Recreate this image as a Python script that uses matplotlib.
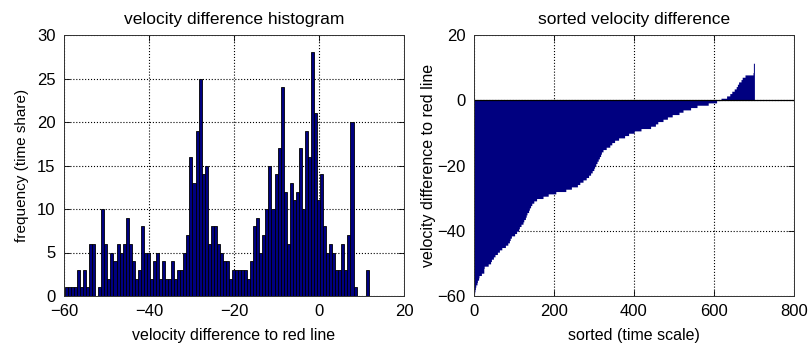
import matplotlib
matplotlib.use("Agg")
import matplotlib.pyplot as plt
import numpy as np

# histogram of velocity difference (100 bins between min and max)
v_min = -59.8
v_max = 11.7
n_bins = 100
hist_counts = [1, 1, 1, 1, 3, 1, 3, 1, 6, 6,
               0, 1, 10, 6, 2, 5, 4, 6, 5, 6,
               9, 6, 4, 2, 3, 8, 5, 5, 2, 4,
               5, 2, 4, 2, 2, 4, 2, 3, 3, 5,
               7, 16, 13, 19, 25, 14, 15, 6, 8, 8,
               6, 5, 4, 4, 2, 3, 3, 3, 3, 3,
               2, 4, 8, 9, 5, 7, 10, 15, 10, 14,
               17, 24, 12, 6, 13, 11, 12, 17, 10, 19,
               16, 28, 21, 11, 14, 8, 5, 6, 5, 3,
               3, 6, 3, 7, 20, 1, 0, 0, 0, 3]

left_xticks = [-60, -40, -20, 0, 20]
left_yticks = [0, 5, 10, 15, 20, 25, 30]
right_xticks = [0, 200, 400, 600, 800]
right_yticks = [-60, -40, -20, 0, 20]

edges = np.linspace(v_min, v_max, n_bins + 1)
centers = (edges[:-1] + edges[1:]) / 2
width = edges[1] - edges[0]

# sorted samples rebuilt from the bins
sorted_vals = np.repeat(centers, hist_counts)
sample_idx = np.arange(1, len(sorted_vals) + 1)

plt.rcParams['font.family'] = ['Liberation Sans', 'DejaVu Sans']
plt.rcParams['font.size'] = 11

navy = '#000080'

fig = plt.figure(figsize=(8.09, 3.5), dpi=100)
ax1 = fig.add_axes([64 / 809, 54 / 350, 340 / 809, 261 / 350])
ax2 = fig.add_axes([474 / 809, 54 / 350, 320 / 809, 261 / 350])


def matlab_style(ax):
    ax.grid(True, linestyle=':', color='black', linewidth=0.8)
    ax.set_axisbelow(True)
    ax.tick_params(direction='in', top=True, right=True, length=4, width=0.6,
                   labelsize=12)
    ax.tick_params(axis='x', pad=6)
    ax.tick_params(axis='y', pad=6)
    for s in ax.spines.values():
        s.set_linewidth(0.7)
        s.set_color('#333333')


ax1.bar(centers, hist_counts, width=width, color=navy, edgecolor='black', linewidth=0.6)
ax1.set_xlim(-60, 20)
ax1.set_ylim(0, 30)
ax1.set_xticks(left_xticks)
ax1.set_yticks(left_yticks)
matlab_style(ax1)
ax1.set_title("velocity difference histogram", pad=8, fontsize=12.5)
ax1.set_xlabel("velocity difference to red line", labelpad=6, fontsize=11.5)
ax1.set_ylabel("frequency (time share)", labelpad=6, fontsize=11)

ax2.fill_between(sample_idx, sorted_vals, 0, step='mid', color=navy, linewidth=0)
ax2.axhline(0, color='black', linewidth=0.9)
ax2.set_xlim(0, 800)
ax2.set_ylim(-60, 20)
ax2.set_xticks(right_xticks)
ax2.set_yticks(right_yticks)
matlab_style(ax2)
ax2.set_title("sorted velocity difference", pad=8, fontsize=12.5)
ax2.set_xlabel("sorted (time scale)", labelpad=6, fontsize=11.5)
ax2.set_ylabel("velocity difference to red line", labelpad=1, fontsize=11.5)

fig.savefig("out.png", dpi=100)
